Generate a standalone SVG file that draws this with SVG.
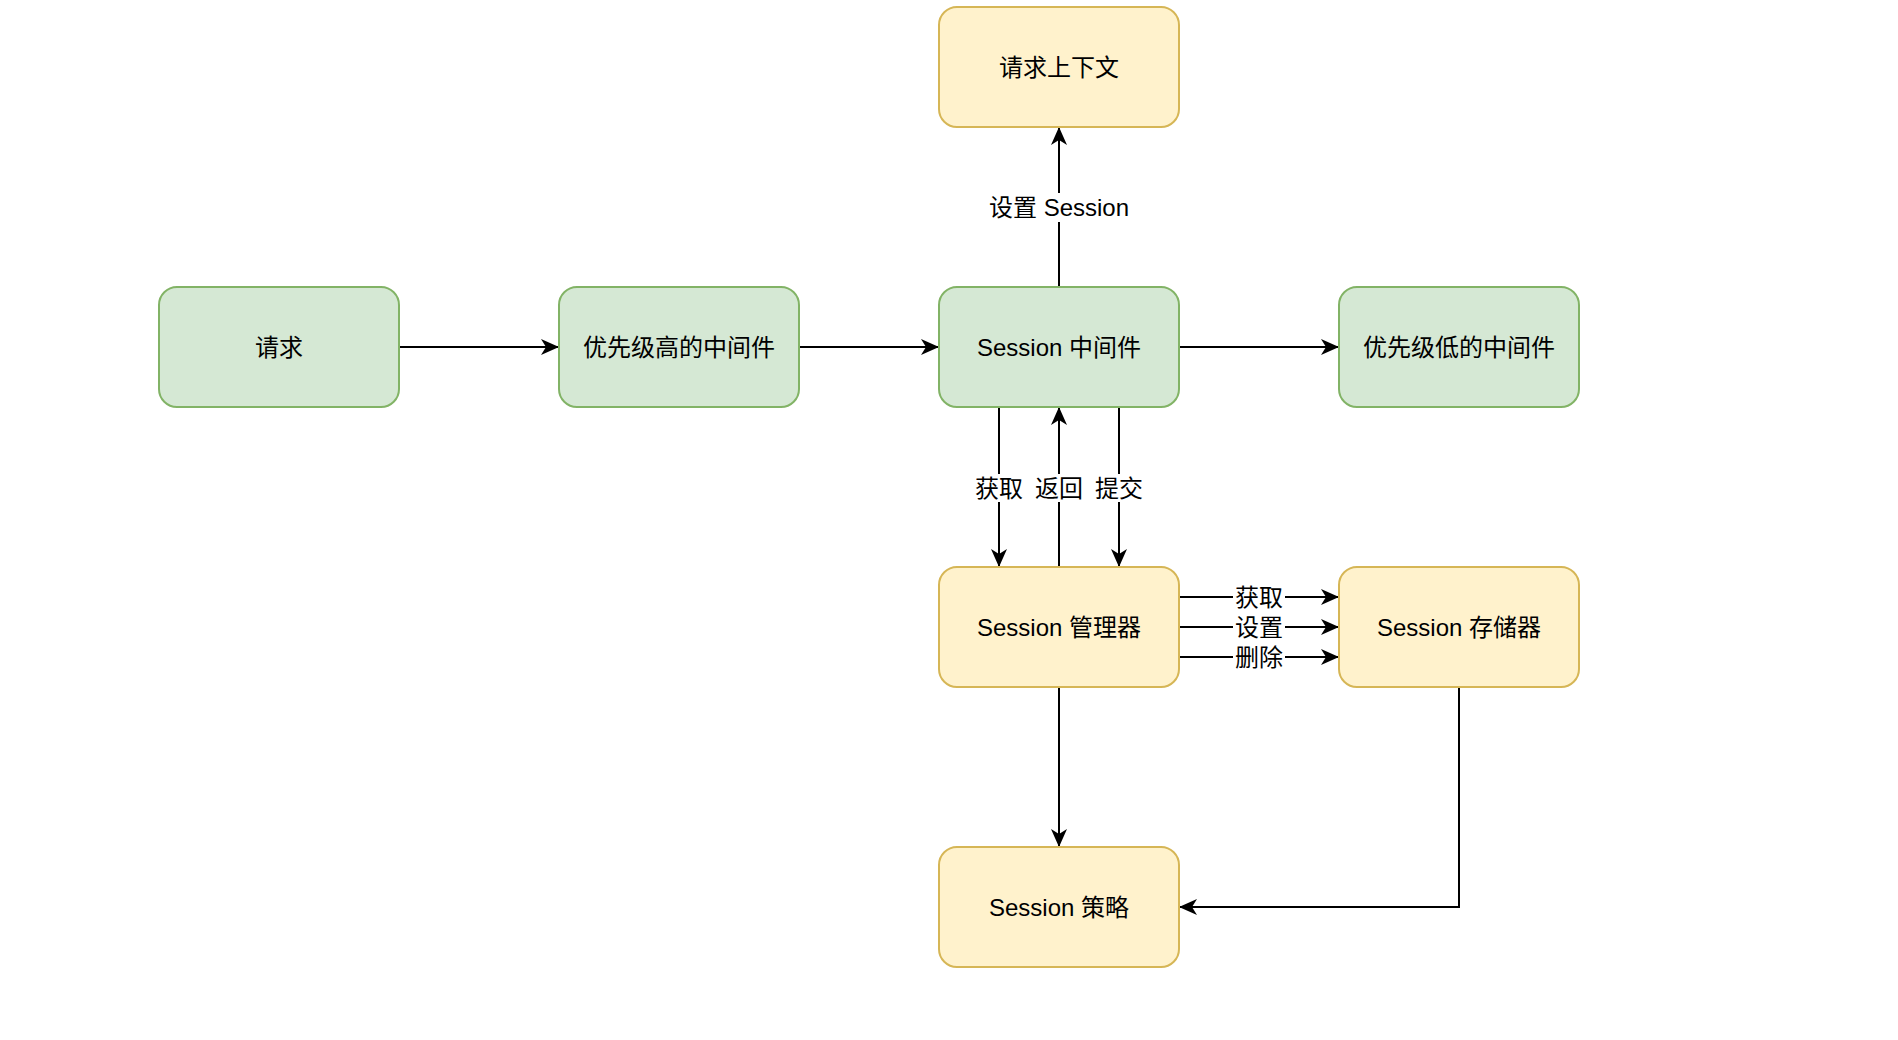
<svg xmlns="http://www.w3.org/2000/svg" width="1898" height="1040" viewBox="0 0 1898 1040">
<style>
.g rect{fill:#d5e8d4;stroke:#82b366;stroke-width:2}
.y rect{fill:#fff2cc;stroke:#d6b656;stroke-width:2}
text{font-family:"Liberation Sans","Noto Sans CJK SC",Arial,sans-serif;font-size:24px;fill:#000;text-anchor:middle;dominant-baseline:central}
.e path{fill:none;stroke:#000;stroke-width:2}
.lb{fill:#fff}
</style>
<defs>
<marker id="a" markerUnits="userSpaceOnUse" viewBox="0 0 18 16" markerWidth="18" markerHeight="16" refX="17" refY="8" orient="auto">
<path d="M0,0 L18,8 L0,16 L5,8 Z" fill="#000"/>
</marker>
</defs>
<rect width="1898" height="1040" fill="#fff"/>
<g id="edges" class="e">
<path d="M399,347 H558" marker-end="url(#a)"/>
<path d="M799,347 H938" marker-end="url(#a)"/>
<path d="M1179,347 H1338" marker-end="url(#a)"/>
<path d="M1059,287 V128" marker-end="url(#a)"/>
<path d="M999,407 V566" marker-end="url(#a)"/>
<path d="M1059,567 V408" marker-end="url(#a)"/>
<path d="M1119,407 V566" marker-end="url(#a)"/>
<path d="M1179,597 H1338" marker-end="url(#a)"/>
<path d="M1179,627 H1338" marker-end="url(#a)"/>
<path d="M1179,657 H1338" marker-end="url(#a)"/>
<path d="M1059,687 V846" marker-end="url(#a)"/>
<path d="M1459,687 V907 H1180" marker-end="url(#a)"/>
<g id="edge-labels">
<rect class="lb" x="986" y="193" width="146" height="29"/>
<text x="1059" y="207.5">设置 Session</text>
<rect class="lb" x="974" y="474" width="50" height="28"/>
<text x="999" y="488">获取</text>
<rect class="lb" x="1034" y="474" width="50" height="28"/>
<text x="1059" y="488">返回</text>
<rect class="lb" x="1094" y="474" width="50" height="28"/>
<text x="1119" y="488">提交</text>
<rect class="lb" x="1233" y="586" width="52" height="22"/>
<text x="1259" y="597">获取</text>
<rect class="lb" x="1233" y="616" width="52" height="22"/>
<text x="1259" y="627">设置</text>
<rect class="lb" x="1233" y="646" width="52" height="22"/>
<text x="1259" y="657">删除</text>
</g>
</g>
<g id="ctx" class="y"><rect x="939" y="7" width="240" height="120" rx="18"/><text x="1059" y="67">请求上下文</text></g>
<g id="req" class="g"><rect x="159" y="287" width="240" height="120" rx="18"/><text x="279" y="347">请求</text></g>
<g id="high" class="g"><rect x="559" y="287" width="240" height="120" rx="18"/><text x="679" y="347">优先级高的中间件</text></g>
<g id="mw" class="g"><rect x="939" y="287" width="240" height="120" rx="18"/><text x="1059" y="347">Session 中间件</text></g>
<g id="low" class="g"><rect x="1339" y="287" width="240" height="120" rx="18"/><text x="1459" y="347">优先级低的中间件</text></g>
<g id="mgr" class="y"><rect x="939" y="567" width="240" height="120" rx="18"/><text x="1059" y="627">Session 管理器</text></g>
<g id="store" class="y"><rect x="1339" y="567" width="240" height="120" rx="18"/><text x="1459" y="627">Session 存储器</text></g>
<g id="policy" class="y"><rect x="939" y="847" width="240" height="120" rx="18"/><text x="1059" y="907">Session 策略</text></g>
</svg>
